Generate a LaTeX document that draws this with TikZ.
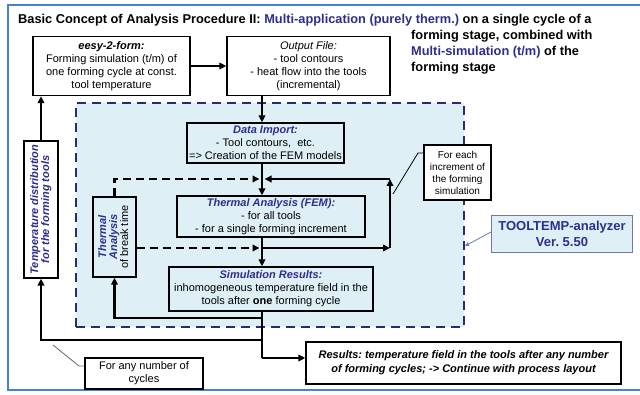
\documentclass[tikz,border=0pt]{standalone}
\usepackage{fontspec}
\setmainfont{Liberation Sans}
\usepackage{graphicx}
\usetikzlibrary{arrows.meta}
\frenchspacing
\definecolor{tblue}{RGB}{46,46,140}
\definecolor{frameblue}{RGB}{70,130,205}
\definecolor{lightfill}{RGB}{222,240,246}
\definecolor{navy}{RGB}{40,44,110}
\definecolor{ttborder}{RGB}{110,120,170}
\begin{document}
\begin{tikzpicture}[x=1pt,y=-1pt,
  box/.style={draw=black, line width=1.3pt, inner sep=1pt, align=center,
    font=\fontsize{11}{13}\selectfont},
  conn/.style={line width=2.2pt, -{Triangle[length=7pt,width=6.5pt]}},
  dconn/.style={conn, dash pattern=on 8pt off 5pt},
  thin/.style={line width=0.8pt},
  hl/.style={text=tblue, font=\bfseries\itshape}]
\useasboundingbox (0,0) rectangle (640,395);
\fill[white] (0,0) rectangle (640,395);
\draw[frameblue, line width=2.5pt] (8,5) rectangle (660,390);

% title
\node[anchor=base west, inner sep=0, font=\fontsize{12.8}{16}\selectfont\bfseries] (t1) at (18,24)
  {Basic Concept of Analysis Procedure II: \textcolor{tblue}{Multi-application (purely therm.)} on a single cycle of a};
\node[anchor=north west, inner sep=0, align=left, font=\fontsize{12.8}{16}\selectfont\bfseries] (t2) at (411,30)
  {forming stage, combined with\\\textcolor{tblue}{Multi-simulation (t/m)} of the\\forming stage};

% dashed analyzer area
\node[draw=navy, fill=lightfill, line width=2pt, dash pattern=on 9pt off 6pt,
  minimum width=388, minimum height=224, inner sep=0] (area) at (270,215) {};

% boxes
\node[box, fill=white, minimum width=157, minimum height=59] (eesy) at (111.5,66)
  {\textbf{\textit{eesy-2-form:}}\\Forming simulation (t/m) of\\one forming cycle at const.\\tool temperature};
\node[box, fill=white, minimum width=163, minimum height=59] (output) at (308.5,66)
  {\textit{Output File:}\\- tool contours\\- heat flow into the tools\\(incremental)};
\node[box, minimum width=157, minimum height=40] (dimp) at (265.5,143)
  {\textcolor{tblue}{\bfseries\itshape Data Import:}\\- Tool contours,\ \ etc.\\=> Creation of the FEM models};
\node[box, minimum width=188, minimum height=41] (fem) at (271,216.5)
  {\textcolor{tblue}{\bfseries\itshape Thermal Analysis (FEM):}\\- for all tools\\- for a single forming increment};
\node[box, minimum width=204, minimum height=44] (sim) at (271,289)
  {\textcolor{tblue}{\bfseries\itshape Simulation Results:}\\inhomogeneous temperature field in the\\tools after \textbf{one} forming cycle};
\node[box, minimum width=43, minimum height=80] (tb) at (114.5,237)
  {\rotatebox{90}{\begin{tabular}{@{}c@{}}\textcolor{tblue}{\bfseries\itshape Thermal}\\[-2pt]\textcolor{tblue}{\bfseries\itshape Analysis}\\[-2pt]of break time\end{tabular}}};
\node[box, fill=white, minimum width=34, minimum height=137] (temp) at (41,209.5)
  {\rotatebox{90}{\begin{tabular}{@{}c@{}}\textcolor{tblue}{\bfseries\itshape Temperature distribution}\\[-2pt]\textcolor{tblue}{\bfseries\itshape for the forming tools}\end{tabular}}};
\node[box, fill=white, line width=1.2pt, minimum width=67, minimum height=55,
  font=\fontsize{10}{12}\selectfont] (fe) at (457.5,172.5)
  {For each\\increment of\\the forming\\simulation};
\node[draw=ttborder, fill=lightfill, line width=1pt, align=center, text=tblue,
  font=\fontsize{13}{16}\selectfont\bfseries, minimum width=141, minimum height=37, inner sep=1pt] (tt) at (562,234)
  {TOOLTEMP-analyzer\\Ver.\ 5.50};
\node[box, fill=white, line width=1.1pt, minimum width=118, minimum height=31] (fa) at (144,373.5)
  {For any number of\\cycles};
\node[box, fill=white, minimum width=315, minimum height=42,
  font=\fontsize{11}{14}\selectfont\bfseries\itshape] (res) at (463.5,363)
  {Results: temperature field in the tools after any number\\of forming cycles; -> Continue with process layout};

% helper coordinates
\coordinate (vx) at (262,0);
\coordinate (lb) at (262,248);
\coordinate (rb) at (390,248);
\coordinate (rt) at (390,179);
\coordinate (ur) at (264.5,179);
\coordinate (ul) at (259.5,179);
\coordinate (lbl) at (259.5,248);
\coordinate (s1) at (262,318);
\coordinate (s2) at (262,340);
\coordinate (s3) at (262,358);
\coordinate (fek) at (418,153);
\coordinate (fep) at (393,194);
\coordinate (fy) at (0,153);
\coordinate (ty) at (0,232);
\coordinate (ae) at (0,246);
\coordinate (fay) at (0,366);
\coordinate (fak) at (79,366);
\coordinate (fap) at (53,345);

% connectors
\draw[conn] (eesy) -- (output);
\draw[conn] (output.south -| vx) -- (dimp.north -| vx);
\draw[conn] (dimp.south -| vx) -- (fem.north -| vx);
\draw[conn] (fem.south -| vx) -- (sim.north -| vx);
\draw[conn] (lb) -- (rb);
\draw[conn] (rb) -- (rt);
\draw[conn] (rt) -- (ur);
\draw[dconn] (tb.north) -- (tb.north |- ul) -- (ul);
\draw[dconn] (tb.east |- lbl) -- (lbl);
\draw[line width=2.2pt] (sim.south -| vx) -- (s3);
\draw[conn] (s3) -- (res.west |- s3);
\draw[conn] (s1) -- (tb.south |- s1) -- (tb.south);
\draw[conn] (s2) -- (temp.south |- s2) -- (temp.south);
\draw[conn] (temp.north) -- (eesy.south -| temp.north);
\draw[thin] (fe.west |- fy) -- (fek) -- (fep);
\draw[thin, draw=ttborder, -{Triangle[length=4pt,width=4pt]}] (tt.west |- ty) -- (area.east |- ae);
\draw[thin, draw=black!60] (fa.west |- fay) -- (fak) -- (fap);
\end{tikzpicture}
\end{document}
